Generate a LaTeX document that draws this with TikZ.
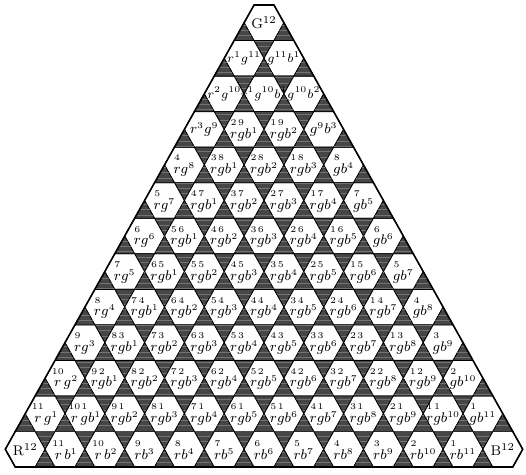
\documentclass[tikz,border=0pt]{standalone}
\usepackage{tikz}
\usetikzlibrary{patterns}
\usepackage{amsmath}
\definecolor{gapDK}{RGB}{70,70,70}
\definecolor{gapLN}{RGB}{115,115,115}

% one factor of a cell term: exponent as superscript, or set above the letter
\newcommand{\supterm}[2]{\ifnum#2>0 #1^{\scriptscriptstyle #2}\fi}
\newcommand{\ovterm}[2]{\ifnum#2>0 \overset{\scriptscriptstyle #2}{\vphantom{b}#1}\fi}
\newcommand{\supcell}[3]{\supterm{r}{#1}\supterm{g}{#2}\supterm{b}{#3}}
\newcommand{\cellterm}[4]{% row, r, g, b exponents
  \ifnum#2=12 \mathrm{R}^{12}\else
  \ifnum#3=12 \mathrm{G}^{12}\else
  \ifnum#4=12 \mathrm{B}^{12}\else
  \ifnum#1<3 \hbox{\scriptsize$\supcell{#2}{#3}{#4}$}%
  \else\ifnum#1<4 \ifnum#2>0 \ifnum#4>0 \ovterm{r}{#2}\ovterm{g}{#3}\supterm{b}{#4}%
    \else\supcell{#2}{#3}{#4}\fi\else\supcell{#2}{#3}{#4}\fi
  \else \ovterm{r}{#2}\ifnum#4>0 \ovterm{g}{#3}\else\supterm{g}{#3}\fi\supterm{b}{#4}\fi\fi
  \fi\fi\fi}

\tikzset{
  hexcell/.style={draw=black,fill=white,line width=0.5pt},
  gapcell/.style={draw=black,fill=gapDK,line width=0.4pt,
    postaction={pattern=horizontal lines,pattern color=gapLN}},
  termlbl/.style={font=\footnotesize,inner sep=0pt},
  rim/.style={draw=black,line width=0.9pt,line join=miter}
}

\begin{document}
\begin{tikzpicture}[x=0.02cm,y=-0.02cm]
  \useasboundingbox (0,0) rectangle (526,474);
  \def\s{19.9}
  \def\h{17.77}
  \foreach \k in {0,...,12}{
    \foreach \j in {0,...,\k}{
      \pgfmathsetmacro\cx{264+(2*\j-\k)*\s}
      \pgfmathsetmacro\cy{5+(2*\k+1)*\h}
      \pgfmathtruncatemacro\ra{\k-\j}
      \pgfmathtruncatemacro\ga{12-\k}
      % hexagon
      \draw[hexcell] (\cx-\s,\cy) -- (\cx-\s/2,\cy-\h) -- (\cx+\s/2,\cy-\h)
        -- (\cx+\s,\cy) -- (\cx+\s/2,\cy+\h) -- (\cx-\s/2,\cy+\h) -- cycle;
      % dark gaps above and below
      \ifnum\k>0
        \draw[gapcell] (\cx-\s/2,\cy-\h) -- (\cx+\s/2,\cy-\h) -- (\cx,\cy-2*\h) -- cycle;
      \fi
      \ifnum\k<12
        \draw[gapcell] (\cx-\s/2,\cy+\h) -- (\cx+\s/2,\cy+\h) -- (\cx,\cy+2*\h) -- cycle;
      \else\ifnum\j<12
        \draw[gapcell] (\cx+\s,\cy) -- (\cx+\s/2,\cy+\h) -- (\cx+3*\s/2,\cy+\h) -- cycle;
      \fi\fi
      \node[termlbl] (t-\k-\j) at (\cx,\cy) {$\cellterm{\k}{\ra}{\ga}{\j}$};
    }
  }
  % outline of the whole triangle
  \draw[rim] (254.05,5) -- (273.95,5) -- (522.7,449.25) -- (512.75,467)
    -- (15.25,467) -- (5.3,449.25) -- cycle;
\end{tikzpicture}
\end{document}
